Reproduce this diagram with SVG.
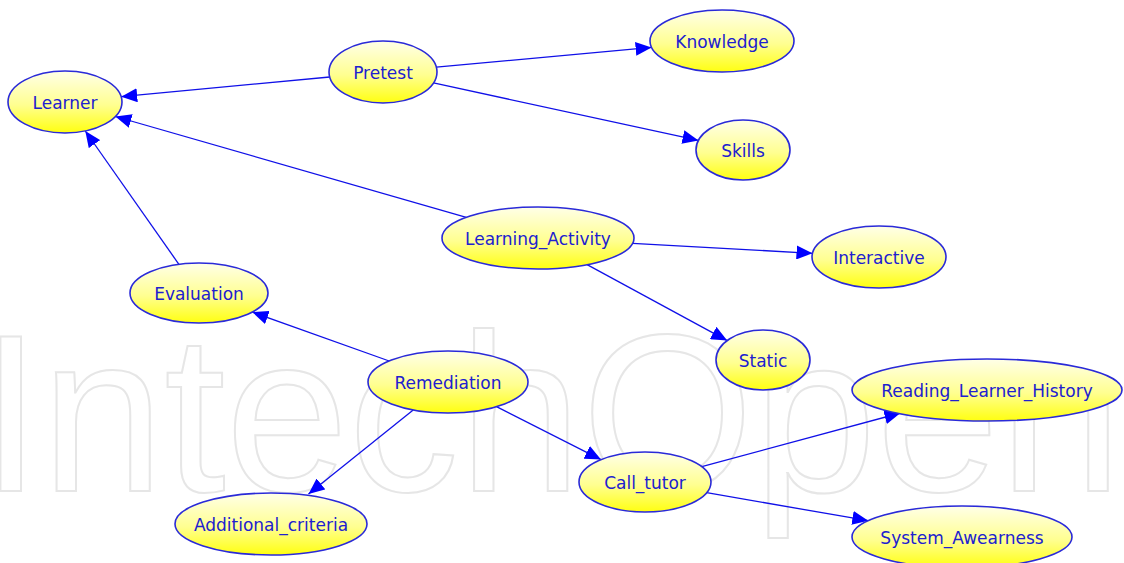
<svg xmlns="http://www.w3.org/2000/svg" width="1124" height="563" viewBox="0 0 1124 563">
<defs>
<linearGradient id="yg" x1="0" y1="0" x2="0" y2="1">
<stop offset="0" stop-color="#ffffe8"/>
<stop offset="0.55" stop-color="#ffff90"/>
<stop offset="1" stop-color="#ffff10"/>
</linearGradient>
<marker id="arr" markerUnits="userSpaceOnUse" markerWidth="18" markerHeight="14" refX="16" refY="7" orient="auto">
<path d="M0,0 L16,7 L0,14 Z" fill="#0000ff"/>
</marker>
<style>
.node ellipse{fill:url(#yg);stroke:#2a2ad8;stroke-width:1.6}
.node text{font-family:"DejaVu Sans","Liberation Sans",sans-serif;font-size:17px;fill:#2020d0;text-anchor:middle}
.edges line{stroke:#1010e8;stroke-width:1.3;marker-end:url(#arr)}
.wm{font-family:"Liberation Sans",Arial,sans-serif;font-size:224px;fill:none;stroke:#e6e6e6;stroke-width:2}
</style>
</defs>
<rect width="1124" height="563" fill="#ffffff"/>
<text class="wm" x="-20" y="491" textLength="1142" lengthAdjust="spacingAndGlyphs">IntechOpen</text>
<g class="edges">
<line x1="329.7" y1="77" x2="121.2" y2="96.7"/>
<line x1="436.3" y1="67.1" x2="651.6" y2="47.4"/>
<line x1="433.5" y1="82.9" x2="698.5" y2="140.4"/>
<line x1="466.3" y1="217.4" x2="115.4" y2="116.5"/>
<line x1="632.6" y1="243.3" x2="812.5" y2="253.3"/>
<line x1="587.1" y1="264.6" x2="727.2" y2="340.6"/>
<line x1="178.9" y1="264.3" x2="85.3" y2="131"/>
<line x1="389.2" y1="361" x2="252.3" y2="312.1"/>
<line x1="413.2" y1="409.9" x2="308.5" y2="494"/>
<line x1="496.5" y1="406.6" x2="601" y2="459.6"/>
<line x1="701.8" y1="466.7" x2="900.5" y2="413"/>
<line x1="706.7" y1="492.7" x2="868.3" y2="520.7"/>
</g>
<g id="n-learner" class="node"><ellipse cx="65" cy="102" rx="57" ry="31"/><text x="65" y="109">Learner</text></g>
<g id="n-pretest" class="node"><ellipse cx="383" cy="72" rx="54" ry="31"/><text x="383" y="79">Pretest</text></g>
<g id="n-knowledge" class="node"><ellipse cx="722" cy="41" rx="72" ry="31"/><text x="722" y="48">Knowledge</text></g>
<g id="n-skills" class="node"><ellipse cx="743" cy="150" rx="47" ry="30"/><text x="743" y="157">Skills</text></g>
<g id="n-learning-activity" class="node"><ellipse cx="538" cy="238" rx="96" ry="31"/><text x="538" y="245">Learning_Activity</text></g>
<g id="n-interactive" class="node"><ellipse cx="879" cy="257" rx="67" ry="31"/><text x="879" y="264">Interactive</text></g>
<g id="n-evaluation" class="node"><ellipse cx="199" cy="293" rx="69" ry="30"/><text x="199" y="300">Evaluation</text></g>
<g id="n-static" class="node"><ellipse cx="763" cy="360" rx="47" ry="30"/><text x="763" y="367">Static</text></g>
<g id="n-remediation" class="node"><ellipse cx="448" cy="382" rx="80" ry="31"/><text x="448" y="389">Remediation</text></g>
<g id="n-reading-learner-history" class="node"><ellipse cx="987" cy="390" rx="135" ry="31"/><text x="987" y="397">Reading_Learner_History</text></g>
<g id="n-call-tutor" class="node"><ellipse cx="645" cy="482" rx="66" ry="30"/><text x="645" y="489">Call_tutor</text></g>
<g id="n-additional-criteria" class="node"><ellipse cx="271" cy="524" rx="96" ry="31"/><text x="271" y="531">Additional_criteria</text></g>
<g id="n-system-awearness" class="node"><ellipse cx="962" cy="537" rx="110" ry="31"/><text x="962" y="544">System_Awearness</text></g>
</svg>
